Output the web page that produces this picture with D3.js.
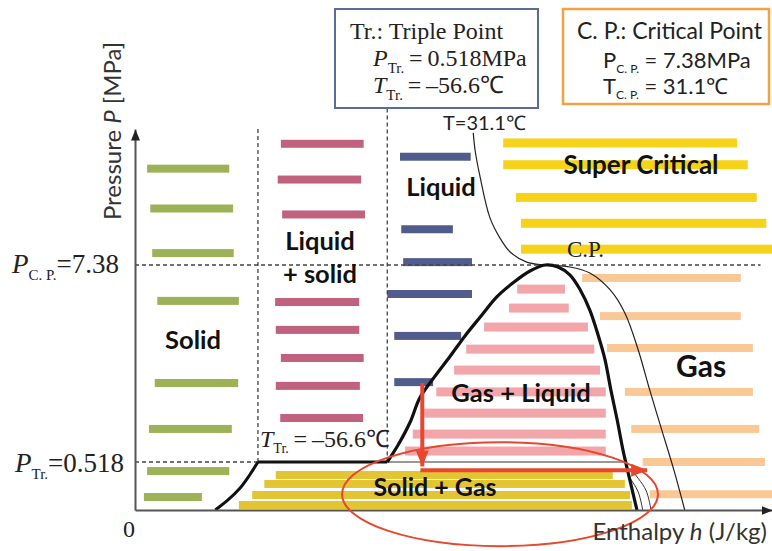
<!DOCTYPE html>
<html>
<head>
<meta charset="utf-8">
<script src="https://cdn.jsdelivr.net/npm/d3@7"></script>
<style>
  html, body { margin: 0; padding: 0; background: #fff; }
  svg { display: block; }
</style>
</head>
<body>
<svg id="chart" width="772" height="551"></svg>
<script>
// ---------------- data ----------------
// Reference pressures on the vertical axis (MPa)
const pressureTicks = [0, 0.518, 7.38];
const tripleP = 0.518;
const criticalP = 7.38;

// Schematic bands for each phase region: [h start, h end, pressure]
// h is relative enthalpy (0–100), pressure in MPa
const solidBands = [[1.9,14.8,12.07],[2.4,15.4,10.13],[2.7,15.5,7.96],[3.5,16.3,6.13],[3.1,16.2,3.27],[2.2,15.2,1.67],[1.9,14.8,0.42],[1.4,10.5,0.14]];
const liquidSolidBands = [[22.9,35.9,13.28],[22.4,35.5,11.54],[23.1,36.1,9.84],[22.0,35.2,6.09],[22.1,35.2,5.12],[22.9,35.9,4.14],[22.1,35.3,3.17],[22.8,35.8,2.05]];
const liquidBands = [[41.6,52.7,12.65],[41.8,49.9,9.12],[42.1,52.9,7.52],[39.6,52.9,6.37],[40.7,51.2,4.91],[40.7,46.8,3.30]];
const superCriticalBands = [[57.8,94.5,13.32],[57.8,96.2,12.26],[59.8,97.6,10.67],[60.6,99.1,9.41],[60.6,100,8.15]];
const gasBands = [[70.2,95.1,6.93],[73.0,95.1,5.60],[74.1,97.0,4.49],[76.9,97.0,2.96],[77.9,98.0,1.67],[79.7,98.9,0.518],[80.8,100,0.17]];
const gasLiquidBands = [[60.0,67.5,6.54],[58.7,68.1,5.88],[54.8,71.1,5.22],[52.0,72.1,4.45],[50.1,73.0,3.72],[47.3,73.9,2.96],[45.4,73.9,2.22],[43.6,73.9,1.49],[42.4,73.9,0.90]];
const solidGasBands = [[22.1,75.0,0.378],[20.3,76.9,0.281],[18.4,77.7,0.162],[16.3,78.0,0.054]];

// Phase boundaries: [h, pressure]
const sublimationCurve = [[12.6,0],[14.6,0.108],[16.5,0.237],[18.0,0.378],[19.3,0.518]];
const tripleLineSolid = [[19.3,0.518],[39.6,0.518]];
const tripleLineTwoPhase = [[39.6,0.518],[77.0,0.518]];
const saturationDome = [[39.6,0.518],[41.3,1.11],[43.2,1.91],[44.7,2.75],[47.1,3.51],[49.5,4.21],[51.8,4.91],[54.2,5.57],[56.8,6.27],[59.3,6.75],[62.0,7.17],[64.4,7.38],[66.4,7.31],[68.3,7.03],[69.9,6.51],[71.4,5.81],[72.7,4.94],[73.8,4.07],[74.7,3.03],[75.7,1.98],[76.6,0.94],[77.7,0.32],[78.8,0]];
const criticalIsotherm = [[53.1,13.81],[53.4,12.94],[54.2,11.63],[55.7,9.70],[57.3,8.69],[58.9,8.01],[61.5,7.52],[64.4,7.38],[68.3,7.31],[71.4,7.10],[74.6,6.51],[76.9,5.71],[79.0,4.42],[80.8,3.03],[82.7,1.63],[84.6,0.43],[86.3,0]];
const lowIsothermA = [[77.7,0.345],[79.0,0.194],[79.7,0]];
const lowIsothermB = [[78.2,0.41],[80.2,0.216],[81.0,0]];

// Process path: pressure drop, then expansion across the solid+gas zone
const pressureDrop = [[45.1,3.27],[45.1,0.47]];
const expansionRun = [[44.8,0.43],[80.4,0.43]];
// Highlighted solid+gas zone: h range and pressure range
const highlightH = [32.5, 82.1];
const highlightP = [-0.39, 1.21];

// Region boundaries drawn dashed
const solidLiquidSolidH = 19.3;
const liquidSolidLiquidH = 39.6;

// ---------------- scales ----------------
const svg = d3.select("#chart");
const x = d3.scaleLinear().domain([0, 100]).range([135, 772]);
const y = d3.scaleLinear().domain([0, tripleP, criticalP, 14]).range([510, 462, 265, 129]);

const colors = {
  solid: "#9db257",
  liquidSolid: "#c0617e",
  liquid: "#505c8c",
  superCritical: "#f6d318",
  gas: "#f9c894",
  gasLiquid: "#f2a6aa",
  solidGas: "#e3c432",
  red: "#e8472e"
};

const SERIF = "'Liberation Serif', 'Times New Roman', serif";
const SANS = "Lato, 'Open Sans', sans-serif";

// ---------------- markers ----------------
const defs = svg.append("defs");
function arrowMarker(id, color, len, wid) {
  defs.append("marker")
    .attr("id", id)
    .attr("markerUnits", "userSpaceOnUse")
    .attr("viewBox", `0 0 ${len} ${wid}`)
    .attr("refX", len).attr("refY", wid / 2)
    .attr("markerWidth", len).attr("markerHeight", wid)
    .attr("orient", "auto")
    .append("path")
    .attr("d", `M0,0L${len},${wid / 2}L0,${wid}Z`)
    .attr("fill", color);
}
arrowMarker("axisArrow", "#222", 11, 9);
arrowMarker("redArrow", colors.red, 16, 13);

// ---------------- bands ----------------
function drawBands(data, color, h) {
  svg.append("g").selectAll("rect").data(data).join("rect")
    .attr("x", d => x(d[0]))
    .attr("width", d => x(d[1]) - x(d[0]))
    .attr("y", d => y(d[2]) - h / 2)
    .attr("height", h)
    .attr("fill", color);
}
drawBands(solidBands, colors.solid, 8);
drawBands(liquidSolidBands, colors.liquidSolid, 8);
drawBands(liquidBands, colors.liquid, 8);
drawBands(superCriticalBands, colors.superCritical, 9);
drawBands(gasBands, colors.gas, 8);
drawBands(gasLiquidBands, colors.gasLiquid, 9);
drawBands(solidGasBands, colors.solidGas, 8);

// ---------------- reference lines ----------------
const dashed = { stroke: "#444", width: 1.3, dash: "4,3" };
function seg(x1, y1, x2, y2) {
  return svg.append("line").attr("x1", x1).attr("y1", y1).attr("x2", x2).attr("y2", y2)
    .attr("stroke", dashed.stroke).attr("stroke-width", dashed.width).attr("stroke-dasharray", dashed.dash);
}
seg(x(0), y(criticalP), x(98.2), y(criticalP));
seg(x(0), y(tripleP), x(solidLiquidSolidH), y(tripleP));
seg(x(solidLiquidSolidH), y(14), x(solidLiquidSolidH), y(tripleP));
seg(x(liquidSolidLiquidH), y(15), x(liquidSolidLiquidH), y(tripleP));

// ---------------- curves ----------------
const smooth = d3.line().x(d => x(d[0])).y(d => y(d[1])).curve(d3.curveCatmullRom.alpha(0.5));
const straight = d3.line().x(d => x(d[0])).y(d => y(d[1]));

svg.append("path").attr("d", straight(tripleLineTwoPhase))
  .attr("fill", "none").attr("stroke", "#777").attr("stroke-width", 1.5);
svg.append("path").attr("d", smooth(criticalIsotherm))
  .attr("fill", "none").attr("stroke", "#222").attr("stroke-width", 1.2);
[lowIsothermA, lowIsothermB].forEach(c =>
  svg.append("path").attr("d", smooth(c))
    .attr("fill", "none").attr("stroke", "#333").attr("stroke-width", 1));
svg.append("path").attr("d", smooth(sublimationCurve))
  .attr("fill", "none").attr("stroke", "#111").attr("stroke-width", 3);
svg.append("path").attr("d", straight(tripleLineSolid))
  .attr("fill", "none").attr("stroke", "#111").attr("stroke-width", 3);
svg.append("path").attr("d", smooth(saturationDome))
  .attr("fill", "none").attr("stroke", "#111").attr("stroke-width", 3.2)
  .attr("stroke-linejoin", "round");

// ---------------- axes ----------------
const xAxis = svg.append("g").attr("transform", `translate(0,${y(0)})`)
  .call(d3.axisBottom(x).tickValues([]).tickSizeOuter(0));
xAxis.select(".domain").attr("stroke", "#555").attr("stroke-width", 2).attr("marker-end", "url(#axisArrow)");
const yAxis = svg.append("g").attr("transform", `translate(${x(0)},0)`)
  .call(d3.axisLeft(y).tickValues([]).tickSizeOuter(0));
yAxis.select(".domain").attr("stroke", "#555").attr("stroke-width", 2).attr("marker-end", "url(#axisArrow)");

// ---------------- red process path ----------------
svg.append("path").attr("d", straight(pressureDrop))
  .attr("stroke", colors.red).attr("stroke-width", 4).attr("fill", "none")
  .attr("marker-end", "url(#redArrow)");
svg.append("path").attr("d", straight(expansionRun))
  .attr("stroke", colors.red).attr("stroke-width", 4).attr("fill", "none")
  .attr("marker-end", "url(#redArrow)");
svg.append("ellipse")
  .attr("cx", (x(highlightH[0]) + x(highlightH[1])) / 2)
  .attr("cy", (y(highlightP[0]) + y(highlightP[1])) / 2)
  .attr("rx", (x(highlightH[1]) - x(highlightH[0])) / 2)
  .attr("ry", (y(highlightP[0]) - y(highlightP[1])) / 2)
  .attr("fill", "none").attr("stroke", colors.red).attr("stroke-width", 2);

// ---------------- text helpers ----------------
// parts: [text, options] where options may set italic / sub
function rich(px, py, parts, font, size, subSize, anchor) {
  const t = svg.append("text").attr("x", px).attr("y", py)
    .attr("font-family", font).attr("font-size", size).attr("fill", "#222")
    .attr("text-anchor", anchor || "start");
  let shifted = 0;
  parts.forEach(([str, opt]) => {
    const s = t.append("tspan").text(str);
    opt = opt || {};
    if (opt.italic) s.attr("font-style", "italic");
    const want = opt.sub ? Math.round(subSize * 0.45) : 0;
    if (want !== shifted) { s.attr("dy", want - shifted); shifted = want; }
    if (opt.sub) s.attr("font-size", subSize);
  });
  return t;
}

// ---------------- info boxes ----------------
svg.append("rect").attr("x", 335).attr("y", 9).attr("width", 203).attr("height", 99)
  .attr("fill", "#fff").attr("stroke", "#5b6d96").attr("stroke-width", 2);
rich(350, 39, [["Tr.: Triple Point"]], SERIF, 24, 15);
rich(373, 66, [["P", { italic: true }], ["Tr.", { sub: true }], ["\u2009=\u20090.518MPa"]], SERIF, 24, 15);
rich(373, 93, [["T", { italic: true }], ["Tr.", { sub: true }], ["\u2009=\u2009\u201356.6\u2103"]], SERIF, 24, 15);

svg.append("rect").attr("x", 563).attr("y", 9).attr("width", 206).attr("height", 95)
  .attr("fill", "#fff").attr("stroke", "#f2a144").attr("stroke-width", 2.5);
rich(577, 39, [["C. P.: Critical Point"]], SANS, 23, 13);
rich(603, 68, [["P"], ["C. P.", { sub: true }], [" = 7.38MPa"]], SANS, 22, 12);
rich(603, 94, [["T"], ["C. P.", { sub: true }], [" = 31.1\u2103"]], SANS, 22, 12);

// ---------------- axis labels ----------------
rich(12, y(criticalP) + 8, [["P", { italic: true }], ["C. P.", { sub: true }], ["=7.38"]], SERIF, 27, 15);
rich(15, y(tripleP) + 10, [["P", { italic: true }], ["Tr.", { sub: true }], ["=0.518"]], SERIF, 27, 15);
svg.append("text").attr("x", x(0) - 6).attr("y", y(0) + 27).attr("text-anchor", "middle")
  .attr("font-family", SERIF).attr("font-size", 24).attr("fill", "#222").text(pressureTicks[0]);

const yTitle = svg.append("text").attr("transform", "translate(121,131) rotate(-90)")
  .attr("text-anchor", "middle").attr("font-family", SANS).attr("font-size", 24).attr("fill", "#333");
yTitle.append("tspan").text("Pressure ");
yTitle.append("tspan").attr("font-style", "italic").text("P");
yTitle.append("tspan").text(" [MPa]");

const xTitle = svg.append("text").attr("x", 767).attr("y", 540)
  .attr("text-anchor", "end").attr("font-family", SANS).attr("font-size", 24).attr("fill", "#333");
xTitle.append("tspan").text("Enthalpy ");
xTitle.append("tspan").attr("font-style", "italic").text("h");
xTitle.append("tspan").text(" (J/kg)");

// ---------------- annotations in the plot ----------------
rich(260, 447, [["T", { italic: true }], ["Tr.", { sub: true }], ["\u2009=\u2009\u201356.6\u2103"]], SERIF, 24, 14);
svg.append("text").attr("x", 443).attr("y", 130).attr("font-family", SANS).attr("font-size", 20)
  .attr("fill", "#222").text("T=31.1\u2103");
svg.append("text").attr("x", 567).attr("y", 257).attr("font-family", SERIF).attr("font-size", 23)
  .attr("fill", "#222").text("C.P.");

// ---------------- region names ----------------
const regionNames = [
  ["Solid", 193, 349, 25.5],
  ["Liquid", 320, 250, 25.5],
  ["+ solid", 320, 283, 25.5],
  ["Liquid", 441, 196, 25.5],
  ["Super Critical", 641, 174, 26],
  ["Gas + Liquid", 521, 402, 25.5],
  ["Gas", 701, 377, 30],
  ["Solid + Gas", 435, 496, 25]
];
svg.append("g").selectAll("text").data(regionNames).join("text")
  .attr("x", d => d[1]).attr("y", d => d[2])
  .attr("text-anchor", "middle")
  .attr("font-family", SANS).attr("font-weight", "bold")
  .attr("font-size", d => d[3]).attr("fill", "#111")
  .text(d => d[0]);
</script>
</body>
</html>
